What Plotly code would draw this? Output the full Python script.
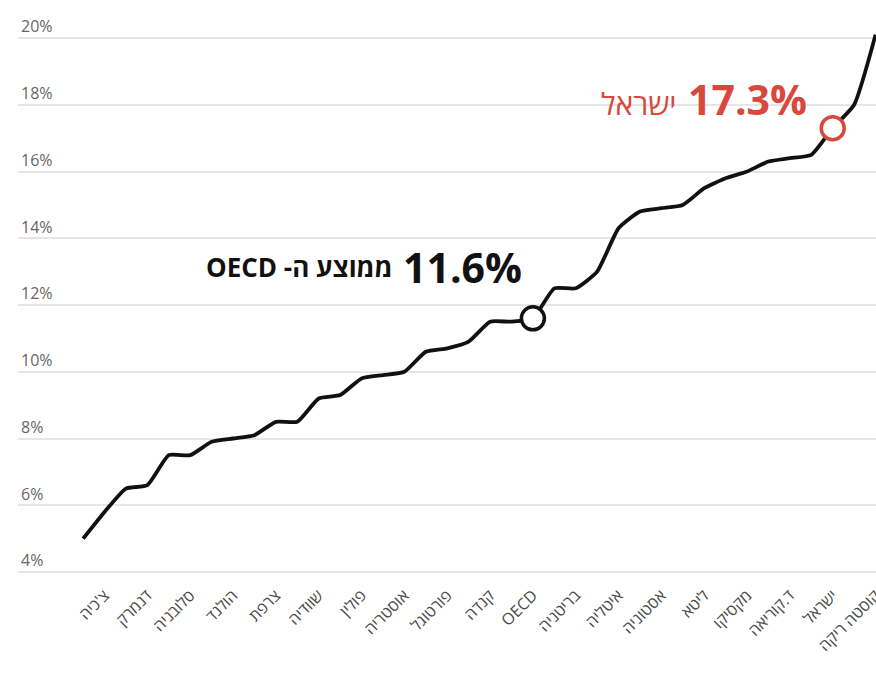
import plotly.graph_objects as go

# Relative poverty rate by country (%), sorted ascending
countries = [
    "איסלנד", "צ'כיה", "פינלנד", "דנמרק", "בלגיה", "סלובניה", "נורווגיה", "הולנד",
    "סלובקיה", "צרפת", "הונגריה", "שוודיה", "אירלנד", "פולין", "גרמניה", "אוסטריה",
    "שווייץ", "פורטוגל", "לוקסמבורג", "קנדה", "ניו זילנד", "OECD", "יוון", "בריטניה",
    "אוסטרליה", "איטליה", "יפן", "אסטוניה", "לטביה", "ליטא", "ספרד", "מקסיקו",
    "טורקיה", "ד.קוריאה", "צ'ילה", "ישראל", "ארה\"ב", "קוסטה ריקה",
]
rates = [
    5.0, 5.8, 6.5, 6.6, 7.5, 7.5, 7.9, 8.0,
    8.1, 8.5, 8.5, 9.2, 9.3, 9.8, 9.9, 10.0,
    10.6, 10.7, 10.9, 11.5, 11.5, 11.6, 12.5, 12.5,
    13.0, 14.3, 14.8, 14.9, 15.0, 15.5, 15.8, 16.0,
    16.3, 16.4, 16.5, 17.3, 18.0, 20.1,
]
# Every other country gets an axis label
tick_countries = countries[1::2]
y_ticks = [4, 6, 8, 10, 12, 14, 16, 18, 20]
y_tick_text = [f"{v}%" for v in y_ticks]

OECD_NAME = "OECD"
ISRAEL_NAME = "ישראל"
RED = "#d8483d"
FONT = "Open Sans, Liberation Sans, DejaVu Sans, sans-serif"

i_oecd = countries.index(OECD_NAME)
i_isr = countries.index(ISRAEL_NAME)

fig = go.Figure()

fig.add_trace(go.Scatter(
    x=countries, y=rates, mode="lines",
    line=dict(color="#111111", width=3.8, shape="spline", smoothing=0.5),
    hoverinfo="skip", showlegend=False,
))

fig.add_trace(go.Scatter(
    x=[countries[i_oecd]], y=[rates[i_oecd]], mode="markers",
    marker=dict(size=23, color="white", line=dict(color="#111111", width=3.5)),
    cliponaxis=False, showlegend=False,
))
fig.add_trace(go.Scatter(
    x=[countries[i_isr]], y=[rates[i_isr]], mode="markers",
    marker=dict(size=23, color="white", line=dict(color=RED, width=3.5)),
    cliponaxis=False, showlegend=False,
))

RLE, PDF = "\u202b", "\u202c"

# OECD average callout
fig.add_annotation(
    x=i_oecd - 0.4, y=rates[i_oecd] + 1.55, xref="x", yref="y",
    text=f"<b>{rates[i_oecd]}%</b>", showarrow=False, xanchor="right", yanchor="middle",
    font=dict(size=41, color="#111111", family=FONT),
)
fig.add_annotation(
    x=i_oecd - 6.5, y=rates[i_oecd] + 1.55, xref="x", yref="y",
    text=f"<b>{RLE}ממוצע ה- {OECD_NAME}{PDF}</b>", showarrow=False,
    xanchor="right", yanchor="middle",
    font=dict(size=26, color="#111111", family=FONT),
)

# Israel callout
fig.add_annotation(
    x=i_isr - 1.1, y=rates[i_isr] + 0.88, xref="x", yref="y",
    text=f"<b>{rates[i_isr]}%</b>", showarrow=False, xanchor="right", yanchor="middle",
    font=dict(size=41, color=RED, family=FONT),
)
fig.add_annotation(
    x=i_isr - 7.2, y=rates[i_isr] + 0.74, xref="x", yref="y",
    text=ISRAEL_NAME, showarrow=False, xanchor="right", yanchor="middle",
    font=dict(size=30, color=RED, family=FONT),
)

fig.update_xaxes(
    type="category", categoryorder="array", categoryarray=countries,
    range=[-3.04, 37.02], automargin=False,
    tickmode="array", tickvals=tick_countries, ticktext=tick_countries,
    tickangle=-45, tickfont=dict(size=16, color="#4a4a4a", family=FONT),
    showgrid=False, zeroline=False, showline=False, ticks="",
)
fig.update_yaxes(
    range=[3.7, 20.6], automargin=False,
    tickmode="array", tickvals=y_ticks, ticktext=y_tick_text,
    ticklabelposition="inside top", ticklabeloverflow="allow",
    tickfont=dict(size=16, color="#666666", family=FONT),
    showgrid=True, gridcolor="#e6e6e6", gridwidth=1.6,
    zeroline=False, showline=False, ticks="",
)

fig.update_layout(
    width=876, height=673,
    margin=dict(l=18, r=0, t=18, b=91),
    paper_bgcolor="white", plot_bgcolor="white",
    font=dict(family=FONT),
)

fig.write_html("out.html")
